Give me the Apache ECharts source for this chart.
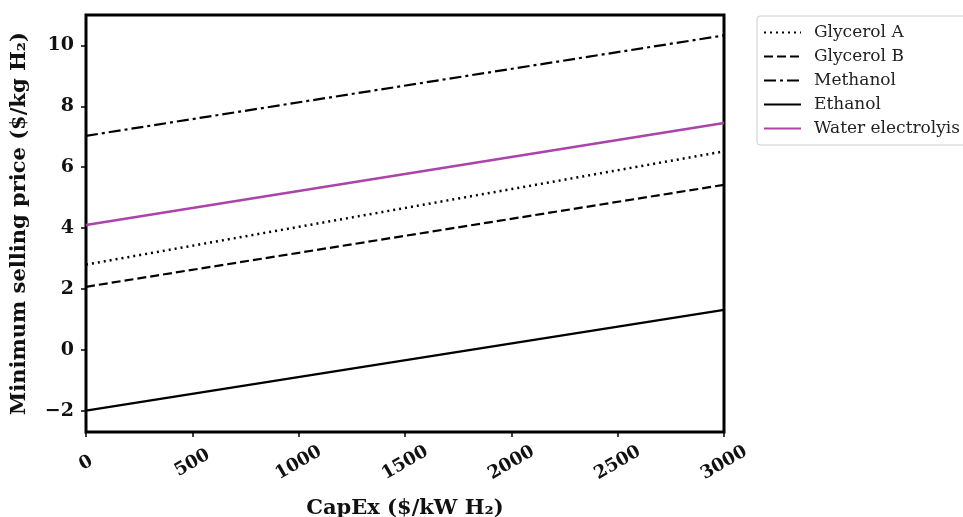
<!DOCTYPE html>
<html><head><meta charset="utf-8">
<script src="https://cdn.jsdelivr.net/npm/echarts@6/dist/echarts.min.js"></script>
<style>html,body{margin:0;padding:0;background:#fff}#c{width:963px;height:517px}</style>
</head><body><div id="c"></div>
<script>
const capex = [0, 3000];
const glycerolA = [2.8, 6.52];
const glycerolB = [2.07, 5.42];
const methanol = [7.03, 10.33];
const ethanol = [-2.0, 1.31];
const water = [4.1, 7.45];
const xTicks = [0, 500, 1000, 1500, 2000, 2500, 3000];
const yTicks = [-2, 0, 2, 4, 6, 8, 10];

const pairs = v => capex.map((x, i) => [x, v[i]]);
const F = 'DejaVu Serif';
const mk = (name, data, color, type, width) => ({
  name, type: 'line', data: pairs(data), symbol: 'none', showSymbol: false,
  lineStyle: { color, type, width }, itemStyle: { color }
});
const chart = echarts.init(document.getElementById('c'));
chart.setOption({
  animation: false,
  grid: { left: 86, right: 239, top: 15, bottom: 85, outerBoundsMode: 'none', containLabel: false,
    show: true, borderColor: '#000', borderWidth: 3, backgroundColor: 'transparent' },
  legend: {
    orient: 'vertical', left: 757, top: 16, itemWidth: 37, itemHeight: 14, itemGap: 7,
    padding: [8, 10, 8, 6], borderColor: '#ccc', borderWidth: 1, borderRadius: 3,
    itemStyle: { opacity: 0 },
    textStyle: { fontFamily: F, fontSize: 17, color: '#222', padding: [0, 0, 0, 8] },
    data: ['Glycerol A', 'Glycerol B', 'Methanol', 'Ethanol', 'Water electrolyis']
  },
  xAxis: {
    type: 'value', min: 0, max: 3000, interval: 500,
    name: 'CapEx ($/kW H₂)', nameLocation: 'middle', nameGap: 66,
    nameTextStyle: { fontFamily: F, fontWeight: 'bold', fontSize: 21, color: '#111' },
    axisLine: { show: false, onZero: false }, splitLine: { show: false },
    axisTick: { show: true, length: 5, lineStyle: { color: '#000', width: 1.5 } },
    axisLabel: { rotate: 30, margin: 31, align: 'center', verticalAlign: 'middle',
      fontFamily: F, fontWeight: 'bold', fontSize: 18, color: '#111',
      formatter: v => xTicks.includes(v) ? String(v) : '' }
  },
  yAxis: {
    type: 'value', min: -2.7, max: 11, interval: 2,
    name: 'Minimum selling price ($/kg H₂)', nameLocation: 'middle', nameGap: 56,
    nameTextStyle: { fontFamily: F, fontWeight: 'bold', fontSize: 21, color: '#111' },
    axisLine: { show: false, onZero: false }, splitLine: { show: false },
    axisTick: { show: true, length: 5, lineStyle: { color: '#000', width: 1.5 }, customValues: yTicks },
    axisLabel: { fontFamily: F, fontWeight: 'bold', fontSize: 19, color: '#111', margin: 12,
      customValues: yTicks, formatter: v => v < 0 ? '−' + Math.abs(v) : String(v) }
  },
  series: [
    mk('Glycerol A', glycerolA, '#000', [2, 4], 2.5),
    mk('Glycerol B', glycerolB, '#000', [9, 4], 2.2),
    mk('Methanol', methanol, '#000', [12, 4, 3, 4], 2.2),
    mk('Ethanol', ethanol, '#000', 'solid', 2.2),
    mk('Water electrolyis', water, '#aa44aa', 'solid', 2.5)
  ]
});
</script></body></html>
